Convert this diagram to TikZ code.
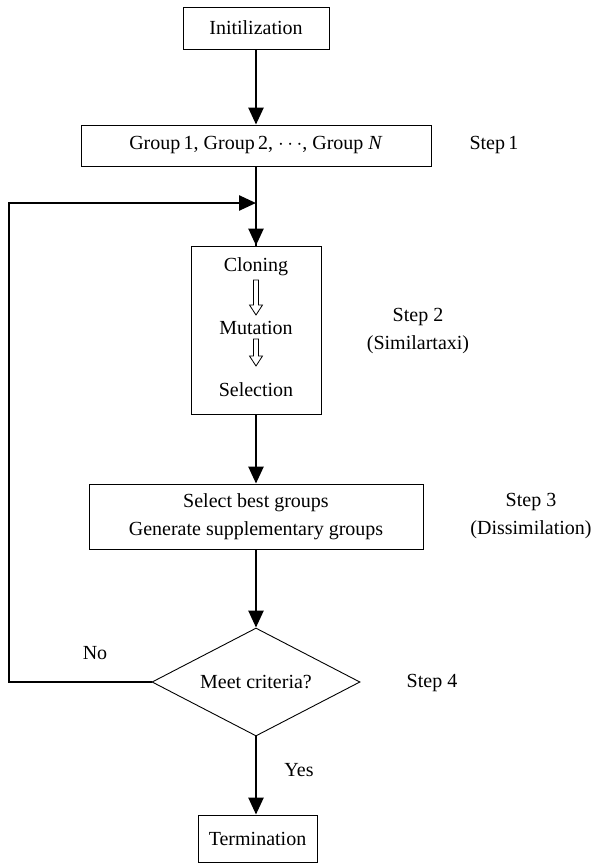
\documentclass[tikz,border=0pt]{standalone}
\usepackage{fontspec}
\setmainfont{Liberation Serif}
\usetikzlibrary{shapes.geometric,arrows.meta}
\begin{document}
\begin{tikzpicture}[x=1pt,y=-1pt,
  every node/.style={font=\fontsize{20}{28}\selectfont, inner sep=0pt},
  box/.style={draw, line width=0.9pt, rectangle},
  flow/.style={line width=2.5pt, -{Triangle[length=17pt,width=15pt]}},
  lbl/.style={anchor=center},
  hollow/.style={draw, line width=0.8pt, fill=white}]
\useasboundingbox (0,0) rectangle (602,865);
\node[box, minimum width=146pt, minimum height=42pt] (init) at (256,28) {Initilization};
\node[box, minimum width=350pt, minimum height=41pt] (grp) at (256,145.5) {Group\,1, Group\,2, $\cdots$, Group \textit{N}};
\node[lbl] (st1) at (494,145) {Step\,1};
\node[box, minimum width=130pt, minimum height=168pt] (sbox) at (256,330) {};
\node (clon) at (256,267) {Cloning};
\node (mut) at (256,328) {Mutation};
\node (sel) at (256,390) {Selection};
\node[lbl, align=center] (st2) at (418,331) {Step 2\\(Similartaxi)};
\node[box, minimum width=334pt, minimum height=65pt, align=center] (s3) at (256,516.5) {Select best groups\\Generate supplementary groups};
\node[lbl, align=center] (st3) at (531,516) {Step 3\\(Dissimilation)};
\node[draw, line width=0.9pt, diamond, aspect=1.926, minimum width=208pt, minimum height=108pt] (dia) at (256,682) {Meet criteria?};
\node[lbl] (st4) at (432,683) {Step 4};
\node[box, minimum width=119pt, minimum height=47pt] (term) at (257.5,838.5) {Termination};
\node (no) at (95,653) {No};
\node (yes) at (299,770) {Yes};
\coordinate (c1) at (9,682);
\coordinate (c2) at (9,203);
\coordinate (c3) at (256,203);
% hollow arrows
\foreach \t/\b in {280/315, 339/366}{
  \path[hollow] (253.5,\t) -- (253.5,\b-10) -- (249.5,\b-10) -- (256,\b) -- (262.5,\b-10) -- (258.5,\b-10) -- (258.5,\t) -- cycle;
}
\draw[flow] (init.south) -- (grp.north -| init.south);
\draw[line width=2.5pt] (grp.south) -- (sbox.north);
\draw[flow] (grp.south) -- (sbox.north);
\draw[flow] (sbox.south) -- (s3.north);
\draw[flow] (s3.south) -- (dia.north);
\draw[flow] (dia.south) -- (dia.south |- term.north);
\draw[flow] (dia.west) -- (c1) -- (c2) -- (c3);
\end{tikzpicture}
\end{document}
